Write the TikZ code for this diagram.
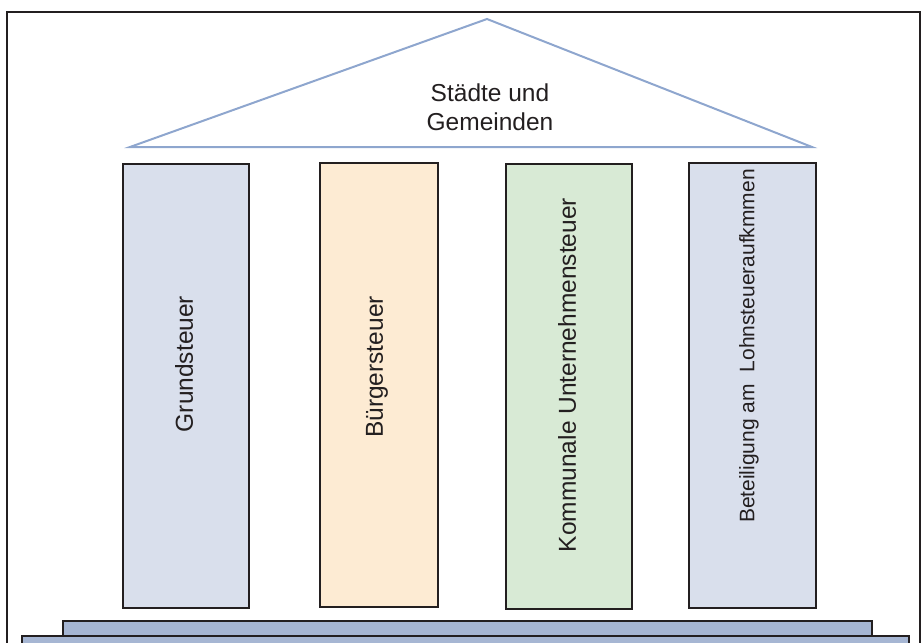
\documentclass[tikz,border=0pt]{standalone}
\usepackage{fontspec}
\setmainfont{Liberation Sans}
\definecolor{dunkel}{HTML}{231F20}
\definecolor{blaugrau}{HTML}{D9DFEC}
\definecolor{orangehell}{HTML}{FDEBD3}
\definecolor{gruenhell}{HTML}{D8EAD5}
\definecolor{sockel}{HTML}{A6B6D3}
\definecolor{dachlinie}{HTML}{8EA6CE}
\tikzset{
  saeule/.style={rectangle,draw=dunkel,line width=2.5pt,inner sep=0pt},
  beschriftung/.style={rotate=90,text=dunkel,font=\fontsize{24.5}{29}\selectfont,inner sep=0pt},
  stufe/.style={draw=dunkel,line width=2.5pt,fill=sockel},
}
\begin{document}
\begin{tikzpicture}[x=1pt,y=-1pt]
  \clip (0,0) rectangle (922,643);
  \draw[line width=2pt,dunkel] (7,12) rectangle (920,700);
  % Dach
  \draw[dachlinie,line width=2pt,line join=miter] (130,147) -- (487,19) -- (812,147) -- cycle;
  \path (490,107) node[align=center,text=dunkel,font=\fontsize{24.5}{29}\selectfont] (D) {Städte und\\Gemeinden};
  % Saeulen
  \path (186,386) node[saeule,fill=blaugrau,minimum width=126pt,minimum height=444pt] (A) {};
  \path (379,385) node[saeule,fill=orangehell,minimum width=118pt,minimum height=444pt] (B) {};
  \path (569,386.5) node[saeule,fill=gruenhell,minimum width=126pt,minimum height=445pt] (C) {};
  \path (752.5,385.5) node[saeule,fill=blaugrau,minimum width=127pt,minimum height=445pt] (E) {};
  \path (184,364) node[beschriftung] (tA) {Grundsteuer};
  \path (377,367) node[beschriftung] (tB) {Bürgersteuer};
  \path (567,375) node[beschriftung] (tC) {Kommunale Unternehmensteuer};
  \path (749,346) node[beschriftung,font=\fontsize{21}{26}\selectfont] (tE) {Beteiligung am\ \ Lohnsteueraufkmmen};
  % Sockel
  \draw[stufe] (63,621) rectangle (872,636);
  \draw[stufe] (22,636) rectangle (909,670);
\end{tikzpicture}
\end{document}
